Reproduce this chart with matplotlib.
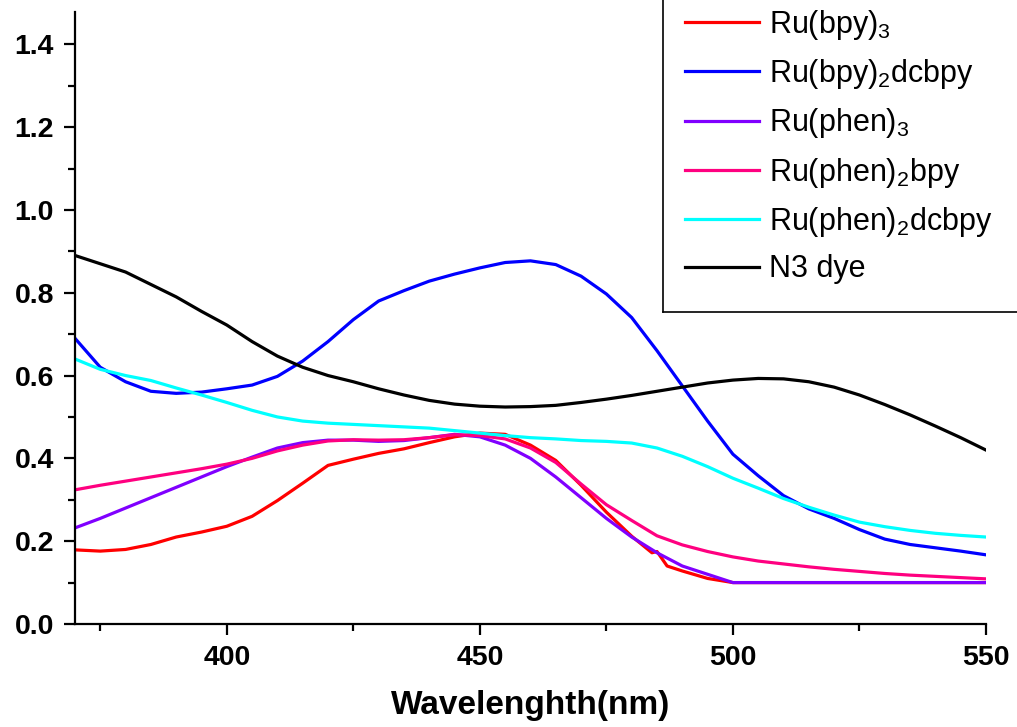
import matplotlib
matplotlib.use("Agg")
import matplotlib.pyplot as plt
from matplotlib.lines import Line2D
from matplotlib.ticker import MultipleLocator

plt.rcParams['font.family'] = ['Liberation Sans', 'DejaVu Sans']
plt.rcParams['mathtext.default'] = 'regular'

# wavelength grid (nm)
wl = [370, 375, 380, 385, 390, 395, 400, 405, 410, 415, 420, 425, 430, 435, 440,
      445, 450, 455, 460, 465, 470, 475, 480, 485, 490, 495, 500, 505, 510, 515,
      520, 525, 530, 535, 540, 545, 550]

n3_dye = [0.89, 0.87, 0.85, 0.82, 0.79, 0.755, 0.722, 0.682, 0.647, 0.62, 0.60, 0.585,
          0.568, 0.553, 0.54, 0.531, 0.526, 0.524, 0.525, 0.528, 0.535, 0.543, 0.552,
          0.562, 0.572, 0.582, 0.589, 0.593, 0.592, 0.585, 0.572, 0.553, 0.53, 0.505,
          0.478, 0.45, 0.42]

bpy2_dcbpy = [0.69, 0.62, 0.585, 0.562, 0.557, 0.56, 0.568, 0.577, 0.598, 0.635, 0.682,
              0.735, 0.78, 0.805, 0.828, 0.845, 0.86, 0.873, 0.877, 0.868, 0.84, 0.797,
              0.74, 0.66, 0.575, 0.49, 0.41, 0.358, 0.31, 0.278, 0.255, 0.228, 0.205,
              0.192, 0.184, 0.176, 0.167]

phen2_dcbpy = [0.64, 0.615, 0.60, 0.588, 0.57, 0.553, 0.535, 0.516, 0.50, 0.49, 0.485,
               0.482, 0.479, 0.476, 0.473, 0.467, 0.461, 0.455, 0.45, 0.447, 0.443,
               0.441, 0.437, 0.425, 0.405, 0.38, 0.352, 0.328, 0.303, 0.282, 0.263,
               0.246, 0.235, 0.226, 0.219, 0.214, 0.21]

phen2_bpy = [0.324, 0.335, 0.345, 0.355, 0.365, 0.375, 0.386, 0.40, 0.418, 0.432, 0.442,
             0.445, 0.444, 0.445, 0.45, 0.457, 0.455, 0.447, 0.425, 0.39, 0.338, 0.288,
             0.25, 0.213, 0.191, 0.175, 0.162, 0.152, 0.145, 0.138, 0.132, 0.127, 0.122,
             0.118, 0.115, 0.112, 0.109]

phen3 = [0.232, 0.255, 0.28, 0.305, 0.33, 0.355, 0.38, 0.403, 0.425, 0.438, 0.444, 0.444,
         0.441, 0.443, 0.45, 0.458, 0.452, 0.432, 0.40, 0.355, 0.305, 0.255, 0.21, 0.172,
         0.14, 0.12, 0.10, 0.10, 0.10, 0.10, 0.10, 0.10, 0.10, 0.10, 0.10, 0.10, 0.10]

# Ru(bpy)3 has a small kink near 485 nm, so it gets its own grid
wl_bpy3 = [370, 375, 380, 385, 390, 395, 400, 405, 410, 415, 420, 425, 430, 435, 440,
           445, 450, 455, 460, 465, 470, 475, 480, 484, 485, 487, 490, 495, 500, 510,
           520, 530, 540, 550]
bpy3 = [0.179, 0.176, 0.18, 0.192, 0.21, 0.222, 0.236, 0.26, 0.298, 0.34, 0.383, 0.398,
        0.412, 0.423, 0.438, 0.452, 0.461, 0.458, 0.432, 0.395, 0.335, 0.27, 0.212, 0.172,
        0.175, 0.14, 0.128, 0.11, 0.10, 0.10, 0.10, 0.10, 0.10, 0.10]

labels = ['Ru(bpy)$_3$', 'Ru(bpy)$_2$dcbpy', 'Ru(phen)$_3$', 'Ru(phen)$_2$bpy',
          'Ru(phen)$_2$dcbpy', 'N3 dye']
colors = ['#ff0000', '#0000ff', '#8000ff', '#ff0080', '#00ffff', '#000000']

fig = plt.figure(figsize=(10.17, 7.27), dpi=100)
ax = fig.add_axes([0.0737, 0.1417, 0.8958, 0.8418])

series = [(wl_bpy3, bpy3), (wl, bpy2_dcbpy), (wl, phen3), (wl, phen2_bpy),
          (wl, phen2_dcbpy), (wl, n3_dye)]
handles = []
for (x, y), c, lab in zip(series, colors, labels):
    h, = ax.plot(x, y, color=c, lw=2.3, label=lab)
    handles.append(h)

ax.set_xlim(370, 550)
ax.set_ylim(0, 1.478)
ax.xaxis.set_major_locator(MultipleLocator(50))
ax.xaxis.set_minor_locator(MultipleLocator(25))
ax.yaxis.set_major_locator(MultipleLocator(0.2))
ax.yaxis.set_minor_locator(MultipleLocator(0.1))
ax.yaxis.set_major_formatter(matplotlib.ticker.FormatStrFormatter('%.1f'))

for s in ['top', 'right']:
    ax.spines[s].set_visible(False)
for s in ['left', 'bottom']:
    ax.spines[s].set_linewidth(1.6)
ax.tick_params(which='major', direction='out', length=8, width=1.6,
               labelsize=20.5, pad=7)
ax.tick_params(which='minor', direction='out', length=5, width=1.6)
for t in ax.get_xticklabels() + ax.get_yticklabels():
    t.set_fontweight('bold')

ax.set_xlabel('Wavelenghth(nm)', fontsize=24, fontweight='bold', labelpad=14)

leg = fig.legend(handles=handles, loc='upper left', bbox_to_anchor=(0.662, 1.006),
                 frameon=False, fontsize=22, handlelength=2.42, handletextpad=0.3,
                 labelspacing=0.5, borderaxespad=0)

# legend box: only its left and bottom edges are in view
fig.add_artist(Line2D([0.652, 0.652], [0.571, 1.0], color='black', lw=1.2,
                      transform=fig.transFigure))
fig.add_artist(Line2D([0.652, 1.0], [0.571, 0.571], color='black', lw=1.2,
                      transform=fig.transFigure))

fig.savefig('out.png', dpi=100)
